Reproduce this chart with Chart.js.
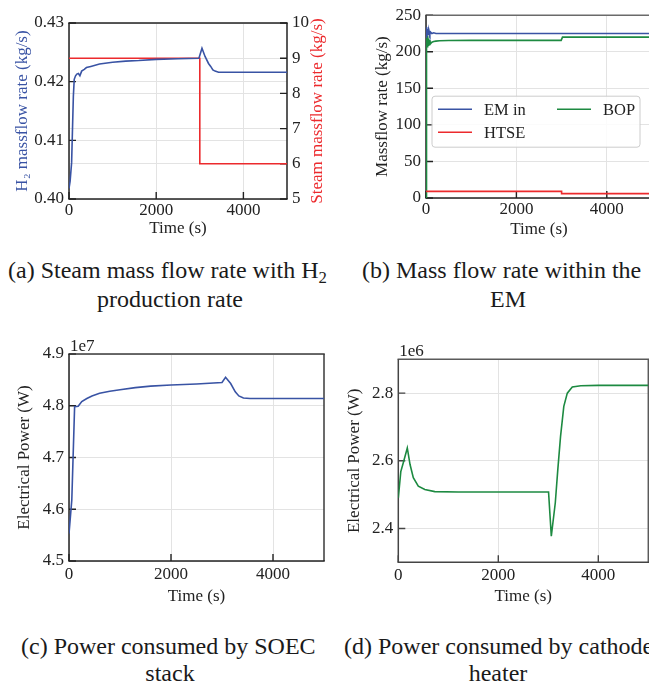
<!DOCTYPE html>
<html><head><meta charset="utf-8">
<script src="https://cdn.jsdelivr.net/npm/chart.js@4.4.1/dist/chart.umd.min.js"></script>
<style>
html,body{margin:0;padding:0;background:#fff;overflow:hidden;width:649px;height:686px;position:relative;}
.pane{position:absolute;}
.cap{position:absolute;font-family:"Liberation Serif","Times New Roman",serif;font-size:24px;line-height:28px;height:28px;color:#1a1a1a;white-space:nowrap;}
.l{text-align:left;}
.c{text-align:center;}
sub{font-size:0.7em;line-height:0;vertical-align:-0.28em;}
</style></head><body>
<div class="pane" style="left:0;top:0;width:330px;height:250px"><canvas id="ca" width="330" height="250"></canvas></div>
<div class="pane" style="left:330px;top:0;width:330px;height:250px"><canvas id="cb" width="330" height="250"></canvas></div>
<div class="pane" style="left:0;top:330px;width:330px;height:290px"><canvas id="cc" width="330" height="290"></canvas></div>
<div class="pane" style="left:330px;top:330px;width:330px;height:290px"><canvas id="cd" width="330" height="290"></canvas></div>

<div class="cap l" style="left:8px;top:256px">(a) Steam mass flow rate with H<sub>2</sub></div>
<div class="cap c" style="left:70px;top:285px;width:200px">production rate</div>
<div class="cap l" style="left:362px;top:256px">(b) Mass flow rate within the</div>
<div class="cap c" style="left:408px;top:285px;width:200px">EM</div>
<div class="cap l" style="left:21px;top:632px">(c) Power consumed by SOEC</div>
<div class="cap c" style="left:70px;top:659px;width:200px">stack</div>
<div class="cap l" style="left:344px;top:632px">(d) Power consumed by cathode</div>
<div class="cap c" style="left:398px;top:659px;width:200px">heater</div>

<script>
// ---------------- data ----------------
const TIME_TICKS = [0, 2000, 4000];

// (a) H2 production rate and steam mass flow rate
const tH2 = [0, 25, 60, 100, 120, 150, 180, 215, 250, 290, 350, 400, 500, 700, 1000, 1300, 1600, 2000, 2500, 2980, 3050, 3120, 3200, 3250, 3300, 3350, 3430, 3600, 4000, 5000];
const h2Rate = [0.4018, 0.4030, 0.4062, 0.4175, 0.4204, 0.4210, 0.4213, 0.4214, 0.4210, 0.4218, 0.4221, 0.4224, 0.4226, 0.4230, 0.4233, 0.4235, 0.4236, 0.4238, 0.4239, 0.4240, 0.4257, 0.4243, 0.4231, 0.4226, 0.4220, 0.4218, 0.4216, 0.4216, 0.4216, 0.4216];
const tSteam = [0, 3000, 3000, 5000];
const steamRate = [9, 9, 6, 6];
const h2Ticks = [0.40, 0.41, 0.42, 0.43];
const steamTicks = [5, 6, 7, 8, 9, 10];

// (b) mass flow rate within the EM
const tEM = [0, 4, 8, 12, 16, 20, 25, 30, 36, 42, 50, 60, 70, 85, 100, 130, 170, 220, 300, 500, 1000, 3000, 5000];
const emIn = [234, 219, 233, 220, 232, 221, 231, 222, 230, 223, 229, 223, 228, 224, 227, 225, 226, 225, 225, 225, 225, 225, 225];
const tHTSE = [0, 3000, 3000, 5000];
const htse = [9, 9, 6, 6];
const tBOP = [0, 2, 5, 9, 13, 17, 21, 26, 31, 37, 43, 50, 60, 70, 85, 100, 130, 170, 220, 300, 500, 1000, 2990, 3020, 5000];
const bop = [0, 205, 228, 204, 226, 206, 224, 207, 222, 208, 220, 209, 218, 210, 216, 211, 213, 214, 214.5, 215, 215.5, 215.6, 215.6, 220, 220];
const flowTicks = [0, 50, 100, 150, 200, 250];

// (c) power consumed by SOEC stack (W)
const tStack = [0, 55, 110, 180, 250, 350, 450, 600, 800, 1000, 1300, 1600, 2000, 2500, 3000, 3070, 3170, 3260, 3330, 3420, 3550, 4000, 5000];
const stackPower = [4.553e7, 4.618e7, 4.798e7, 4.799e7, 4.808e7, 4.814e7, 4.819e7, 4.824e7, 4.828e7, 4.831e7, 4.835e7, 4.838e7, 4.840e7, 4.842e7, 4.845e7, 4.855e7, 4.843e7, 4.827e7, 4.819e7, 4.815e7, 4.814e7, 4.814e7, 4.814e7];
const stackTicks = [4.5e7, 4.6e7, 4.7e7, 4.8e7, 4.9e7];

// (d) power consumed by cathode heater (W)
const tHeater = [0, 50, 100, 180, 235, 300, 400, 530, 730, 1200, 3005, 3060, 3140, 3190, 3245, 3310, 3380, 3480, 3650, 4000, 5000];
const heaterPower = [2.49e6, 2.568e6, 2.594e6, 2.638e6, 2.589e6, 2.550e6, 2.525e6, 2.515e6, 2.509e6, 2.508e6, 2.508e6, 2.377e6, 2.476e6, 2.574e6, 2.672e6, 2.761e6, 2.800e6, 2.818e6, 2.822e6, 2.823e6, 2.823e6];
const heaterTicks = [2.4e6, 2.6e6, 2.8e6];

// ---------------- style ----------------
const BLUE = '#3953a4', RED = '#ec2a2d', GREEN = '#1d8a41';
const TXT = '#222222', GRID = '#e3e3e3';
const FAM = "'Liberation Serif','Times New Roman',serif";
const F = {family: FAM, size: 17};

function pts(t, v) { return t.map((x, i) => ({x: x, y: v[i]})); }
function fixedTicks(vals) { return s => { s.ticks = vals.map(v => ({value: v})); }; }

function timeAxis(h, tickPad, titlePad) {
  return {type: 'linear', position: 'bottom', min: 0, max: 5000,
    afterBuildTicks: fixedTicks(TIME_TICKS),
    afterFit: s => { s.height = h; },
    grid: {color: GRID, lineWidth: 1, drawTicks: false},
    border: {display: false},
    ticks: {font: F, color: TXT, padding: tickPad, maxRotation: 0, autoSkip: false, callback: v => String(v)},
    title: {display: true, text: 'Time (s)', font: F, color: TXT, padding: {top: 0, bottom: titlePad}}};
}
function valueAxis(pos, w, min, max, vals, fmt, title, titleColor, titlePad) {
  return {type: 'linear', position: pos, min: min, max: max,
    afterBuildTicks: fixedTicks(vals),
    afterFit: s => { s.width = w; },
    grid: {color: GRID, lineWidth: 1, drawTicks: false},
    border: {display: false},
    ticks: {font: F, color: TXT, padding: 5, autoSkip: false, callback: fmt},
    title: {display: !!title, text: title || '', font: F, color: titleColor, padding: {top: titlePad, bottom: titlePad}}};
}

const framePlugin = {
  id: 'frame',
  beforeDatasetsDraw(chart, args, o) {
    const ctx = chart.ctx, a = chart.chartArea, L = 7;
    ctx.save();
    ctx.strokeStyle = o.tick || '#222'; ctx.lineWidth = 1.4;
    ctx.beginPath();
    for (const id in chart.scales) {
      const s = chart.scales[id];
      s.ticks.forEach(t => {
        const p = s.getPixelForValue(t.value);
        if (s.isHorizontal()) { ctx.moveTo(p, a.bottom); ctx.lineTo(p, a.bottom - L); }
        else if (s.position === 'left') { ctx.moveTo(a.left, p); ctx.lineTo(a.left + L, p); }
        else { ctx.moveTo(a.right, p); ctx.lineTo(a.right - L, p); }
      });
    }
    ctx.stroke();
    ctx.lineWidth = 1.5;
    const sp = o.spines || {};
    const seg = (c, x1, y1, x2, y2) => { ctx.strokeStyle = c; ctx.beginPath(); ctx.moveTo(x1, y1); ctx.lineTo(x2, y2); ctx.stroke(); };
    seg(sp.top || '#222', a.left - 0.75, a.top, a.right + 0.75, a.top);
    seg(sp.right || '#222', a.right, a.top, a.right, a.bottom);
    seg(sp.bottom || '#222', a.left - 0.75, a.bottom, a.right + 0.75, a.bottom);
    seg(sp.left || '#222', a.left, a.top, a.left, a.bottom);
    ctx.restore();
  },
  afterDraw(chart, args, o) {
    const ctx = chart.ctx, a = chart.chartArea;
    ctx.save();
    ctx.font = `${F.size}px ${FAM}`;
    if (o.offsetText) {
      ctx.fillStyle = TXT; ctx.textAlign = 'left'; ctx.textBaseline = 'alphabetic';
      ctx.fillText(o.offsetText, a.left + 1, a.top - 3);
    }
    if (o.rightTitle) {
      ctx.fillStyle = o.rightColor; ctx.textAlign = 'center'; ctx.textBaseline = 'middle';
      ctx.translate(a.right + o.rightOffset, (a.top + a.bottom) / 2);
      ctx.rotate(-Math.PI / 2);
      ctx.fillText(o.rightTitle, 0, 0);
    }
    ctx.restore();
  }
};

const boxLegend = {
  id: 'boxLegend',
  afterDatasetsDraw(chart, args, o) {
    if (!o.display) return;
    const ctx = chart.ctx, a = chart.chartArea;
    const x0 = a.left + o.dx, y0 = a.top + o.dy, w = o.w, h = o.h, r = 3;
    ctx.save();
    ctx.beginPath();
    ctx.moveTo(x0 + r, y0); ctx.lineTo(x0 + w - r, y0); ctx.arcTo(x0 + w, y0, x0 + w, y0 + r, r);
    ctx.lineTo(x0 + w, y0 + h - r); ctx.arcTo(x0 + w, y0 + h, x0 + w - r, y0 + h, r);
    ctx.lineTo(x0 + r, y0 + h); ctx.arcTo(x0, y0 + h, x0, y0 + h - r, r);
    ctx.lineTo(x0, y0 + r); ctx.arcTo(x0, y0, x0 + r, y0, r); ctx.closePath();
    ctx.fillStyle = 'rgba(255,255,255,0.85)'; ctx.fill();
    ctx.strokeStyle = '#cccccc'; ctx.lineWidth = 1; ctx.stroke();
    const ds = chart.data.datasets, rows = Math.ceil(ds.length / o.ncol);
    ctx.font = `${o.fontSize}px ${FAM}`; ctx.textBaseline = 'middle'; ctx.textAlign = 'left';
    ds.forEach((d, i) => {
      const col = Math.floor(i / rows), row = i % rows;
      const cx = x0 + o.colX[col], cy = y0 + o.rowY[row];
      ctx.strokeStyle = d.borderColor; ctx.lineWidth = 1.6;
      ctx.beginPath(); ctx.moveTo(cx, cy); ctx.lineTo(cx + o.sample, cy); ctx.stroke();
      ctx.fillStyle = TXT; ctx.fillText(d.label, cx + o.sample + o.gap, cy + 1);
    });
    ctx.restore();
  }
};

function base(pad) {
  return {responsive: false, animation: false, events: [],
    layout: {padding: pad},
    elements: {point: {radius: 0}, line: {borderWidth: 1.6, tension: 0}},
    plugins: {legend: {display: false}, tooltip: {enabled: false}}};
}

// ---------------- (a) ----------------
{
  const opt = base({top: 23, right: 0, left: 0, bottom: 0});
  opt.scales = {
    x: timeAxis(51, 1, 10.8),
    y: valueAxis('left', 69, 0.40, 0.43, h2Ticks, v => v.toFixed(2), 'H\u2082 massflow rate (kg/s)', BLUE, 12.8),
    y2: valueAxis('right', 43, 5, 10, steamTicks, v => String(v), '', RED, 0)
  };
  opt.plugins.frame = {rightTitle: 'Steam massflow rate (kg/s)', rightColor: RED, rightOffset: 31};
  new Chart(document.getElementById('ca'), {type: 'line',
    data: {datasets: [
      {label: 'H2', data: pts(tH2, h2Rate), borderColor: BLUE, yAxisID: 'y'},
      {label: 'Steam', data: pts(tSteam, steamRate), borderColor: RED, yAxisID: 'y2'}
    ]}, options: opt, plugins: [framePlugin]});
}
// ---------------- (b) ----------------
{
  const opt = base({top: 14, right: 8, left: 0, bottom: 0});
  opt.scales = {
    x: timeAxis(52, 1, 10.5),
    y: valueAxis('left', 96, 0, 250, flowTicks, v => String(v), 'Massflow rate (kg/s)', TXT, 42.8)
  };
  opt.plugins.frame = {spines: {top: '#6a6a6a', right: '#6a6a6a'}};
  opt.plugins.boxLegend = {display: true, dx: 6, dy: 81, w: 208, h: 51, ncol: 2,
    colX: [6, 125], rowY: [13, 36], sample: 34, gap: 12, fontSize: 16.5};
  new Chart(document.getElementById('cb'), {type: 'line',
    data: {datasets: [
      {label: 'EM in', data: pts(tEM, emIn), borderColor: BLUE},
      {label: 'HTSE', data: pts(tHTSE, htse), borderColor: RED},
      {label: 'BOP', data: pts(tBOP, bop), borderColor: GREEN}
    ]}, options: opt, plugins: [framePlugin, boxLegend]});
}
// ---------------- (c) ----------------
{
  const opt = base({top: 24, right: 6, left: 0, bottom: 0});
  opt.scales = {
    x: timeAxis(59, 3, 13.1),
    y: valueAxis('left', 69, 4.5e7, 4.9e7, stackTicks, v => (v / 1e7).toFixed(1), 'Electrical Power (W)', TXT, 14.8)
  };
  opt.plugins.frame = {offsetText: '1e7', spines: {top: '#3a3a3a', right: '#3a3a3a'}};
  new Chart(document.getElementById('cc'), {type: 'line',
    data: {datasets: [{label: 'SOEC stack', data: pts(tStack, stackPower), borderColor: BLUE}]},
    options: opt, plugins: [framePlugin]});
}
// ---------------- (d) ----------------
{
  const opt = base({top: 29.3, right: 11.7, left: 0, bottom: 0});
  opt.scales = {
    x: timeAxis(57.7, 3, 13.1),
    y: valueAxis('left', 68.3, 2.3e6, 2.9e6, heaterTicks, v => (v / 1e6).toFixed(1), 'Electrical Power (W)', TXT, 14.8)
  };
  opt.plugins.frame = {offsetText: '1e6', tick: '#444', spines: {top: '#5a5a5a', right: '#5a5a5a', left: '#444', bottom: '#444'}};
  new Chart(document.getElementById('cd'), {type: 'line',
    data: {datasets: [{label: 'Cathode heater', data: pts(tHeater, heaterPower), borderColor: GREEN}]},
    options: opt, plugins: [framePlugin]});
}
</script>
</body></html>
